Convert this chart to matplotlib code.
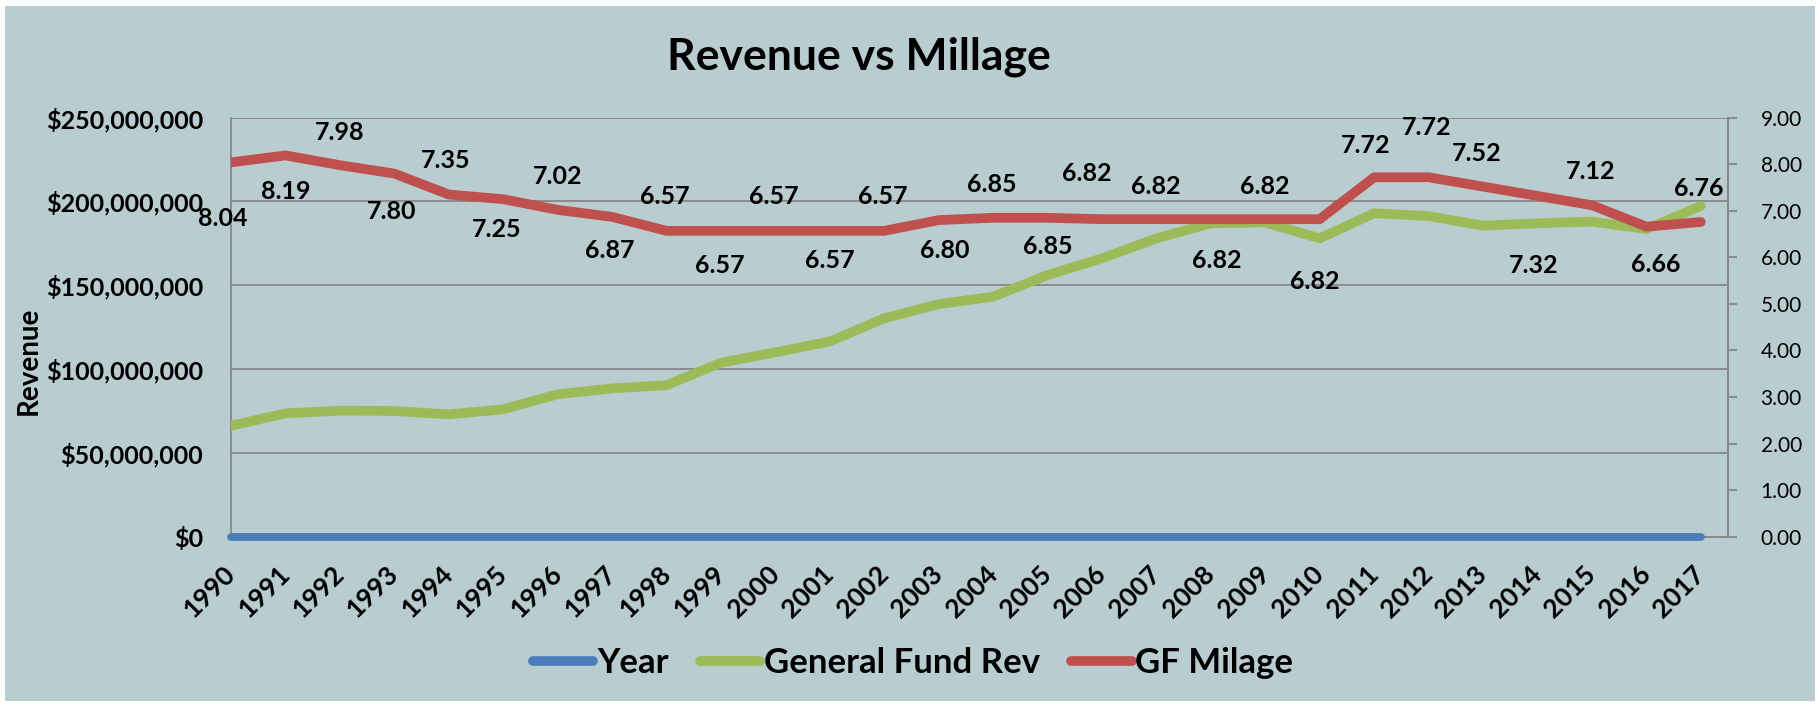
import matplotlib
matplotlib.use("Agg")
import matplotlib.pyplot as plt
from matplotlib.patches import Rectangle
from matplotlib.lines import Line2D
from matplotlib.ticker import FuncFormatter, MultipleLocator

plt.rcParams['font.family'] = ['Lato', 'DejaVu Sans']

# ---- data ----
years = [1990, 1991, 1992, 1993, 1994, 1995, 1996, 1997, 1998, 1999,
         2000, 2001, 2002, 2003, 2004, 2005, 2006, 2007, 2008, 2009,
         2010, 2011, 2012, 2013, 2014, 2015, 2016, 2017]
general_fund_rev = [66.2e6, 73.6e6, 75.2e6, 75.0e6, 73.0e6, 76.0e6, 85.0e6, 88.5e6, 90.4e6, 103.8e6,
                    110.0e6, 116.5e6, 130.3e6, 138.8e6, 143.2e6, 156.1e6, 166.1e6, 178.0e6, 187.0e6, 187.5e6,
                    178.0e6, 193.0e6, 191.3e6, 185.6e6, 187.0e6, 188.0e6, 183.6e6, 197.3e6]
gf_milage = [8.04, 8.19, 7.98, 7.80, 7.35, 7.25, 7.02, 6.87, 6.57, 6.57,
             6.57, 6.57, 6.57, 6.80, 6.85, 6.85, 6.82, 6.82, 6.82, 6.82,
             6.82, 7.72, 7.72, 7.52, 7.32, 7.12, 6.66, 6.76]
series_names = ["Year", "General Fund Rev", "GF Milage"]
title = "Revenue vs Millage"
y_label = "Revenue"

# label offsets (pixels) for the milage data labels
label_offsets = [(-8, -56), (0, -36), (0, 33), (-3, -38), (-3, 34), (-6, -30), (0, 33), (-2, -34),
                 (-2, 34), (-1, -35), (-2, 34), (0, -30), (-1, 34), (6, -30), (-1, 33), (0, -29),
                 (-15, 46), (-1, 33), (6, -41), (-1, 33), (-5, -62), (-9, 32), (-2, 50), (-6, 33),
                 (-4, -70), (-1, 34), (9, -38), (-2, 33)]

# ---- style ----
BG = '#B9CDD0'
BLUE = '#4A7EBB'
GREEN = '#9BBB59'
RED = '#C0504D'
GRID = '#878787'

W, H = 1820, 706
fig = plt.figure(figsize=(W / 100, H / 100), dpi=100)
fig.patch.set_facecolor('white')
fig.patches.append(Rectangle((5 / W, 5 / H), 1810 / W, 695 / H, transform=fig.transFigure,
                             facecolor=BG, edgecolor='none', zorder=-10))

left, right, top, bottom = 231, 1728, 117.7, 536.7
ax = fig.add_axes([left / W, (H - bottom) / H, (right - left) / W, (bottom - top) / H])
ax.set_facecolor(BG)

ax.plot(years, years, color=BLUE, lw=5.6, solid_capstyle='round', clip_on=False, zorder=3)
ax.plot(years, general_fund_rev, color=GREEN, lw=7, solid_capstyle='round',
        solid_joinstyle='round', zorder=4)

ax.set_xlim(1990, 2017.5)
ax.set_ylim(0, 250e6)
ax.yaxis.set_major_locator(MultipleLocator(50e6))
ax.yaxis.set_major_formatter(FuncFormatter(lambda v, p: f"${v:,.0f}"))
ax.yaxis.grid(True, color=GRID, lw=1.3)
ax.set_axisbelow(True)
ax.set_xticks(years)
ax.set_xticklabels([str(y) for y in years], rotation=45, ha='right', va='center',
                   rotation_mode='anchor', fontsize=19, fontweight='bold')
ax.tick_params(axis='x', length=0, pad=24)
ax.tick_params(axis='y', length=0, pad=20, labelsize=18)
for lab in ax.get_yticklabels():
    lab.set_fontweight('bold')
for s in ['top']:
    ax.spines[s].set_visible(False)
for s in ['left', 'bottom', 'right']:
    ax.spines[s].set_color(GRID)
    ax.spines[s].set_linewidth(1.3)

ax2 = ax.twinx()
ax2.plot(years, gf_milage, color=RED, lw=7, solid_capstyle='round',
         solid_joinstyle='round', zorder=5)
ax2.set_ylim(0, 9)
ax2.yaxis.set_major_locator(MultipleLocator(1))
ax2.yaxis.set_major_formatter(FuncFormatter(lambda v, p: f"{v:.2f}"))
ax2.tick_params(axis='y', length=6.5, width=1.3, color=GRID, pad=17, labelsize=15)
for s in ['top', 'left', 'bottom']:
    ax2.spines[s].set_visible(False)
ax2.spines['right'].set_color(GRID)
ax2.spines['right'].set_linewidth(1.3)

for yr, v, (dx, dy) in zip(years, gf_milage, label_offsets):
    ax2.annotate(f"{v:.2f}", (yr, v), xytext=(dx, dy), textcoords='offset pixels',
                 ha='center', va='center', fontsize=18, fontweight='bold', color='black',
                 zorder=6)

fig.text(859 / W, 1 - 57 / H, title, ha='center', va='center', fontsize=32, fontweight='bold')
fig.text(29 / W, 1 - 361 / H, y_label, rotation=90, ha='center', va='center',
         fontsize=20, fontweight='bold')

handles = [Line2D([0], [0], color=c, lw=7, solid_capstyle='round') for c in (BLUE, GREEN, RED)]
fig.legend(handles, series_names, loc='center', bbox_to_anchor=(913 / W, 1 - 663 / H),
           ncol=3, frameon=False, prop={'size': 25, 'weight': 'bold'},
           handlelength=1.75, handletextpad=0.1, columnspacing=0.9)

fig.savefig('out.png', dpi=100, facecolor=fig.get_facecolor())
